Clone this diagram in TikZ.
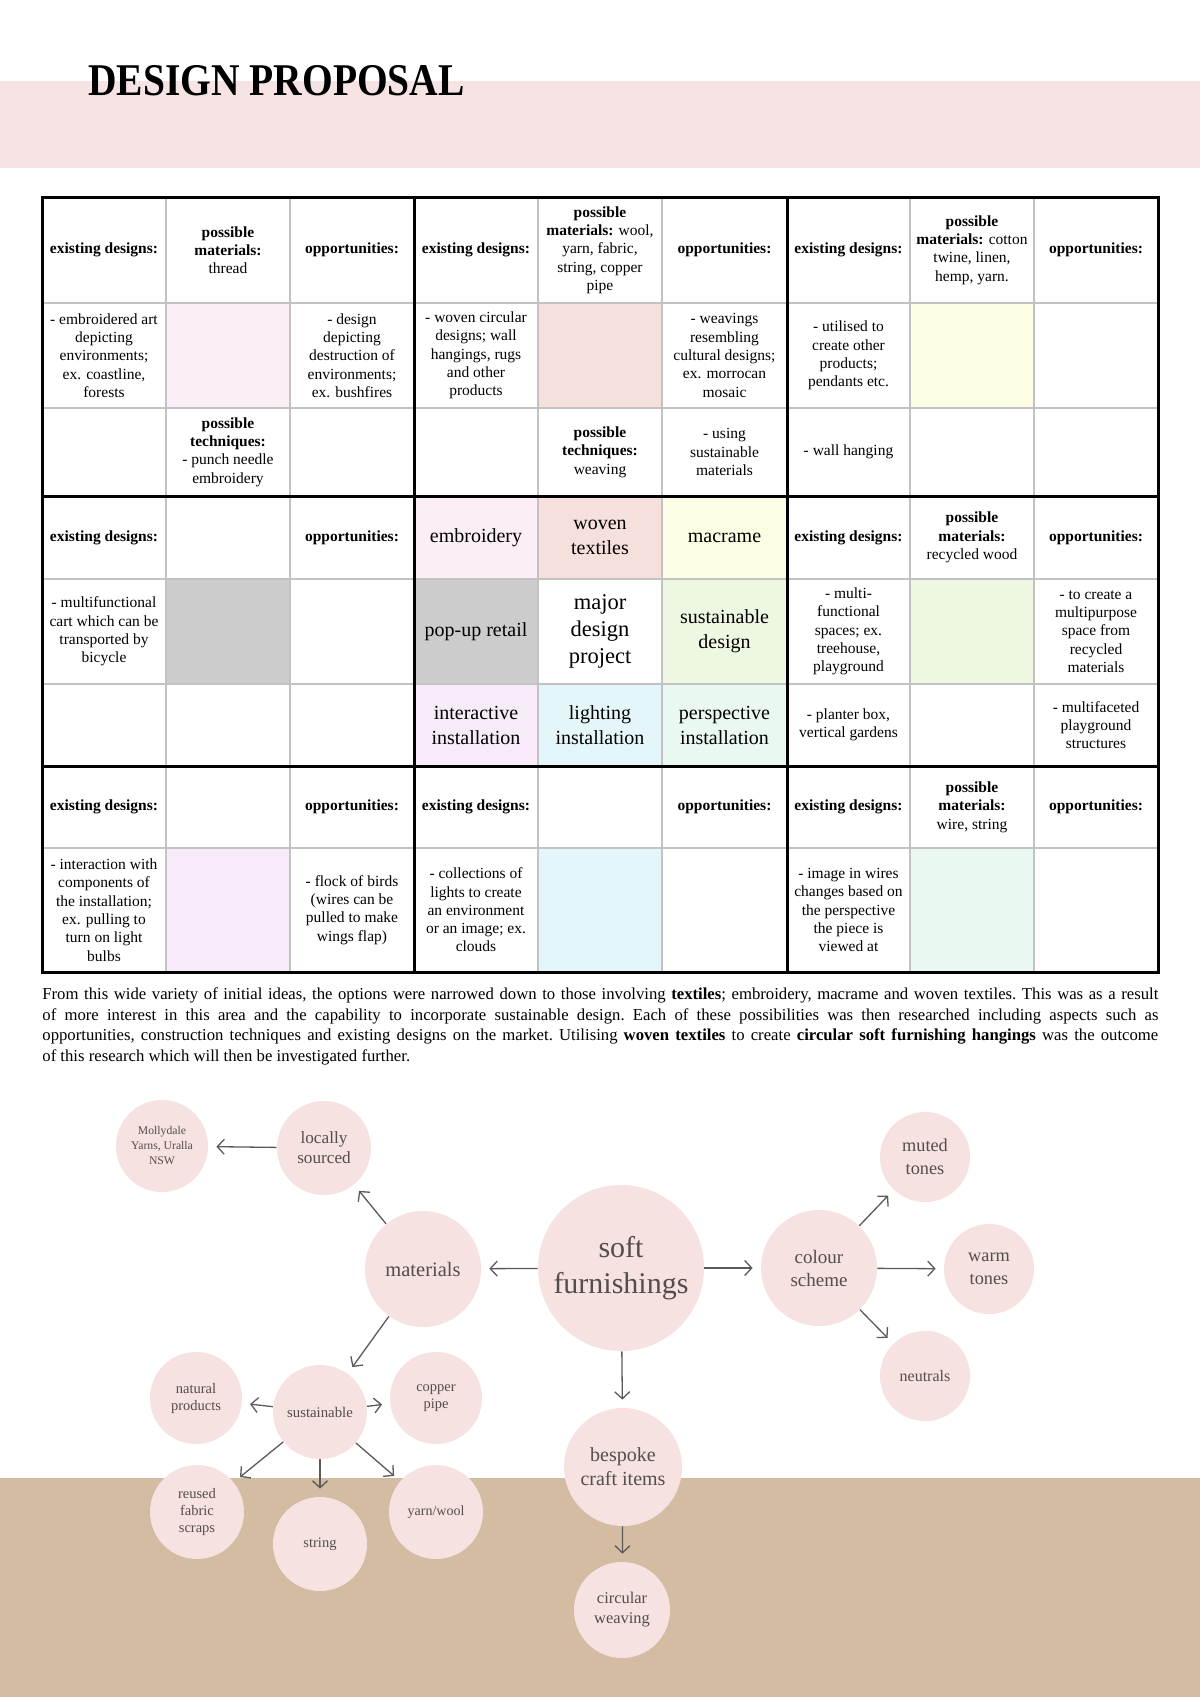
\documentclass[tikz,border=0pt]{standalone}
\usepackage{fontspec}
\setmainfont{Liberation Serif}
\usetikzlibrary{arrows.meta}

\definecolor{band}{HTML}{F6E3E3}
\definecolor{ground}{HTML}{D4BCA3}
\definecolor{bubblefill}{HTML}{F5E2E1}
\definecolor{bubbletext}{HTML}{554D4D}
\definecolor{linkgray}{HTML}{5A5A5A}
\definecolor{gridgray}{HTML}{C2C2C2}
\definecolor{cpink}{HTML}{FCEEF7}
\definecolor{csalmon}{HTML}{F6E0DC}
\definecolor{cyellow}{HTML}{FDFDE3}
\definecolor{cgray}{HTML}{CCCCCC}
\definecolor{cgreen}{HTML}{EEF7E2}
\definecolor{clavender}{HTML}{F7EBFA}
\definecolor{cblue}{HTML}{E5F6FB}
\definecolor{cmint}{HTML}{E9F8F0}

\newcommand{\hd}[1]{\textbf{#1}}

\tikzset{
  cell/.style={align=center, inner sep=0pt, font=\fontsize{7.75}{9.15}\selectfont},
  idea/.style={align=center, inner sep=0pt, font=\fontsize{10}{12.5}\selectfont},
  bubble/.style={circle, fill=bubblefill, inner sep=0pt, text=bubbletext, align=center},
  link/.style={draw=linkgray, line width=0.65pt, -{Straight Barb[length=3.5pt,width=7.5pt]}, shorten >=4pt},
  thin grid/.style={draw=gridgray, line width=0.6pt},
  thick grid/.style={draw=black, line width=1.5pt},
}

\begin{document}
\begin{tikzpicture}[x=0.5pt,y=-0.5pt]
\useasboundingbox (0,0) rectangle (1200,1697);
\fill[white] (0,0) rectangle (1200,1697);

% page bands
\fill[band] (0,81) rectangle (1200,168);
\fill[ground] (0,1478) rectangle (1200,1697);

\node[anchor=base west, inner sep=0pt] (title) at (88,95)
  {\scalebox{0.87}[1]{\fontsize{22.7}{24}\selectfont\bfseries DESIGN PROPOSAL}};

% coloured cells of the idea grid
\fill[cpink]     (166,303) rectangle (290,408);
\fill[csalmon]   (538,303) rectangle (662,408);
\fill[cyellow]   (910,303) rectangle (1034,408);
\fill[cpink]     (414,496) rectangle (538,579);
\fill[csalmon]   (538,496) rectangle (662,579);
\fill[cyellow]   (662,496) rectangle (787,579);
\fill[cgray]     (166,579) rectangle (290,684);
\fill[cgray]     (414,579) rectangle (538,684);
\fill[cgreen]    (662,579) rectangle (787,684);
\fill[cgreen]    (910,579) rectangle (1034,684);
\fill[clavender] (414,684) rectangle (538,766);
\fill[cblue]     (538,684) rectangle (662,766);
\fill[cmint]     (662,684) rectangle (787,766);
\fill[clavender] (166,848) rectangle (290,972);
\fill[cblue]     (538,848) rectangle (662,972);
\fill[cmint]     (910,848) rectangle (1034,972);

% grid lines
\foreach \x in {166,290,538,662,910,1034} \draw[thin grid] (\x,197) -- (\x,972);
\foreach \y in {303,408,579,684,848} \draw[thin grid] (42,\y) -- (1158,\y);
\draw[thick grid] (42,197) rectangle (1158,972);
\draw[thick grid] (414,197) -- (414,972) (787,197) -- (787,972)
                  (42,496) -- (1158,496) (42,766) -- (1158,766);

% embroidery block
\node[cell] (ed1) at (104,250) {\hd{existing designs:}};
\node[cell] (pm1) at (228,250) {\hd{possible}\\\hd{materials:}\\thread};
\node[cell] (op1) at (352,250) {\hd{opportunities:}};
\node[cell] (ex1) at (104,355.5) {- embroidered art\\depicting\\environments;\\ex. coastline,\\forests};
\node[cell] (od1) at (352,355.5) {- design\\depicting\\destruction of\\environments;\\ex. bushfires};
\node[cell] (pt1) at (228,452) {\hd{possible}\\\hd{techniques:}\\- punch needle\\embroidery};

% woven textiles block
\node[cell] (ed2) at (476,250) {\hd{existing designs:}};
\node[cell] (pm2) at (600,250) {\hd{possible}\\\hd{materials:} wool,\\yarn, fabric,\\string, copper\\pipe};
\node[cell] (op2) at (724.5,250) {\hd{opportunities:}};
\node[cell] (ex2) at (476,355.5) {- woven circular\\designs; wall\\hangings, rugs\\and other\\products};
\node[cell] (od2) at (724.5,355.5) {- weavings\\resembling\\cultural designs;\\ex. morrocan\\mosaic};
\node[cell] (pt2) at (600,452) {\hd{possible}\\\hd{techniques:}\\weaving};
\node[cell] (ou2) at (724.5,452) {- using\\sustainable\\materials};

% macrame block
\node[cell] (ed3) at (848.5,250) {\hd{existing designs:}};
\node[cell] (pm3) at (972,250) {\hd{possible}\\\hd{materials:} cotton\\twine, linen,\\hemp, yarn.};
\node[cell] (op3) at (1096,250) {\hd{opportunities:}};
\node[cell] (ex3) at (848.5,355.5) {- utilised to\\create other\\products;\\pendants etc.};
\node[cell] (ew3) at (848.5,452) {- wall hanging};

% pop-up retail block
\node[cell] (ed4) at (104,537.5) {\hd{existing designs:}};
\node[cell] (op4) at (352,537.5) {\hd{opportunities:}};
\node[cell] (ex4) at (104,631.5) {- multifunctional\\cart which can be\\transported by\\bicycle};

% central ideas
\node[idea] (emb) at (476,537.5) {embroidery};
\node[idea] (wov) at (600,537.5) {woven\\textiles};
\node[idea] (mac) at (724.5,537.5) {macrame};
\node[idea] (pop) at (476,631.5) {pop-up retail};
\node[idea, font=\fontsize{11.25}{13.3}\selectfont] (major) at (600,631.5) {major\\design\\project};
\node[idea] (sus) at (724.5,631.5) {sustainable\\design};
\node[idea] (int) at (476,725) {interactive\\installation};
\node[idea] (lig) at (600,725) {lighting\\installation};
\node[idea] (per) at (724.5,725) {perspective\\installation};

% sustainable design block
\node[cell] (ed6) at (848.5,537.5) {\hd{existing designs:}};
\node[cell] (pm6) at (972,537.5) {\hd{possible}\\\hd{materials:}\\recycled wood};
\node[cell] (op6) at (1096,537.5) {\hd{opportunities:}};
\node[cell] (ex6) at (848.5,631.5) {- multi-\\functional\\spaces; ex.\\treehouse,\\playground};
\node[cell] (od6) at (1096,631.5) {- to create a\\multipurpose\\space from\\recycled\\materials};
\node[cell] (ev6) at (848.5,725) {- planter box,\\vertical gardens};
\node[cell] (om6) at (1096,725) {- multifaceted\\playground\\structures};

% installation blocks
\node[cell] (ed7) at (104,807) {\hd{existing designs:}};
\node[cell] (op7) at (352,807) {\hd{opportunities:}};
\node[cell] (ex7) at (104,910) {- interaction with\\components of\\the installation;\\ex. pulling to\\turn on light\\bulbs};
\node[cell] (od7) at (352,910) {- flock of birds\\(wires can be\\pulled to make\\wings flap)};
\node[cell] (ed8) at (476,807) {\hd{existing designs:}};
\node[cell] (op8) at (724.5,807) {\hd{opportunities:}};
\node[cell] (ex8) at (476,910) {- collections of\\lights to create\\an environment\\or an image; ex.\\clouds};
\node[cell] (ed9) at (848.5,807) {\hd{existing designs:}};
\node[cell] (pm9) at (972,807) {\hd{possible}\\\hd{materials:}\\wire, string};
\node[cell] (op9) at (1096,807) {\hd{opportunities:}};
\node[cell] (ex9) at (848.5,910) {- image in wires\\changes based on\\the perspective\\the piece is\\viewed at};

% summary paragraph
\node[anchor=north west, inner sep=0pt, text width=558pt, align=justify,
      font=\fontsize{8.35}{10.45}\selectfont] (summary) at (42,987)
{\frenchspacing\hyphenpenalty=10000\tolerance=9999
From this wide variety of initial ideas, the options were narrowed down to those involving \textbf{textiles}; embroidery, macrame and woven textiles. This was as a result\linebreak
of more interest in this area and the capability to incorporate sustainable design. Each of these possibilities was then researched including aspects such as\linebreak
opportunities, construction techniques and existing designs on the market. Utilising \textbf{woven textiles} to create \textbf{circular soft furnishing hangings} was the outcome\linebreak
of this research which will then be investigated further.};

% mind map
\node[bubble, minimum size=83pt, font=\fontsize{15}{18}\selectfont] (soft) at (621,1268) {soft\\furnishings};
\node[bubble, minimum size=58pt, font=\fontsize{10.25}{12}\selectfont] (mat) at (423,1269) {materials};
\node[bubble, minimum size=58pt, font=\fontsize{9.5}{11.5}\selectfont] (col) at (819,1268) {colour\\scheme};
\node[bubble, minimum size=47pt, font=\fontsize{8.6}{10}\selectfont] (loc) at (324,1148) {locally\\sourced};
\node[bubble, minimum size=46pt, font=\fontsize{5.85}{7.5}\selectfont] (mol) at (162,1146) {Mollydale\\Yarns, Uralla\\NSW};
\node[bubble, minimum size=47pt, font=\fontsize{7.4}{8.5}\selectfont] (sust) at (320,1412) {sustainable};
\node[bubble, minimum size=46pt, font=\fontsize{7.25}{8.5}\selectfont] (nat) at (196,1398) {natural\\products};
\node[bubble, minimum size=46pt, font=\fontsize{7.25}{8.5}\selectfont] (cop) at (436,1398) {copper\\pipe};
\node[bubble, minimum size=47pt, font=\fontsize{7.25}{8.5}\selectfont] (reu) at (197,1512) {reused\\fabric\\scraps};
\node[bubble, minimum size=47pt, font=\fontsize{7.25}{8.5}\selectfont] (str) at (320,1544) {string};
\node[bubble, minimum size=47pt, font=\fontsize{7}{8.5}\selectfont] (yarn) at (436,1512) {yarn/wool};
\node[bubble, minimum size=59pt, font=\fontsize{10}{12}\selectfont] (besp) at (623,1467) {bespoke\\craft items};
\node[bubble, minimum size=48pt, font=\fontsize{8.2}{10}\selectfont] (circ) at (622,1610) {circular\\weaving};
\node[bubble, minimum size=45pt, font=\fontsize{9.15}{11.3}\selectfont] (mut) at (925,1157) {muted\\tones};
\node[bubble, minimum size=45pt, font=\fontsize{9.15}{11.3}\selectfont] (warm) at (989,1269) {warm\\tones};
\node[bubble, minimum size=45pt, font=\fontsize{8}{10}\selectfont] (neu) at (925,1376) {neutrals};

\draw[link] (soft) -- (mat);
\draw[link] (soft) -- (col);
\draw[link] (soft) -- (besp);
\draw[link] (besp) -- (circ);
\draw[link] (mat) -- (loc);
\draw[link] (loc) -- (mol);
\draw[link] (mat) -- (sust);
\draw[link] (sust) -- (nat);
\draw[link] (sust) -- (cop);
\draw[link] (sust) -- (reu);
\draw[link] (sust) -- (str);
\draw[link] (sust) -- (yarn);
\draw[link] (col) -- (mut);
\draw[link] (col) -- (warm);
\draw[link] (col) -- (neu);
\end{tikzpicture}
\end{document}
